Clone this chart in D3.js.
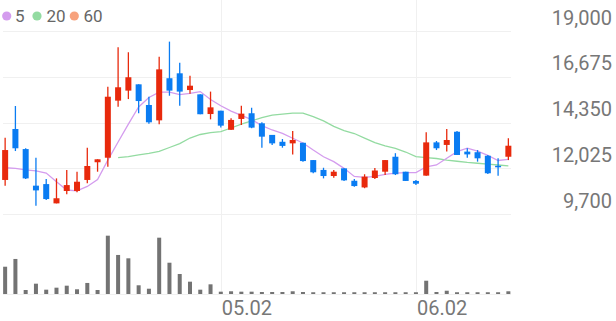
<!DOCTYPE html>
<html>
<head>
<meta charset="utf-8">
<script src="https://cdn.jsdelivr.net/npm/d3@7"></script>
<style>
    body { margin: 0; background: #fff; }
    svg { display: block; font-family: Roboto, "Noto Sans", sans-serif; }
</style>
</head>
<body>
<script>
const dates = ["04.02", "04.03", "04.04", "04.07", "04.08", "04.09", "04.10", "04.11", "04.14", "04.15",
    "04.16", "04.17", "04.18", "04.21", "04.22", "04.23", "04.24", "04.25", "04.28", "04.29",
    "04.30", "05.02", "05.07", "05.08", "05.09", "05.12", "05.13", "05.14", "05.15", "05.16",
    "05.19", "05.20", "05.21", "05.22", "05.23", "05.26", "05.27", "05.28", "05.29", "05.30",
    "06.02", "06.04", "06.05", "06.09", "06.10", "06.11", "06.12", "06.13", "06.16", "06.17"];
const opens = [11430, 14020, 13000, 11140, 11220, 10240, 10870, 10870, 11430, 12330,
    12560, 15460, 15970, 16290, 15240, 14460, 16600, 16850, 16000, 15780,
    14780, 14950, 13980, 14530, 14820, 14310, 13720, 13370, 13290, 13320,
    12440, 11940, 11630, 12020, 11390, 11050, 11530, 11850, 12610, 11850,
    11380, 11650, 13340, 13210, 13880, 12870, 12840, 12660, 12150, 12610];
const highs = [13580, 15190, 13040, 12560, 11480, 11510, 11940, 11850, 13070, 12480,
    16170, 18170, 17920, 16290, 15660, 17690, 18460, 17390, 16730, 15780,
    15920, 14950, 14560, 15200, 15100, 14360, 13720, 13510, 13920, 13320,
    12440, 12050, 11940, 12020, 11480, 11720, 12040, 12440, 12790, 11850,
    11430, 13850, 13410, 14020, 13920, 13040, 12950, 12700, 12530, 13550];
const lows = [11140, 12900, 11480, 10120, 10410, 10240, 10700, 10800, 11260, 11850,
    12100, 15150, 15540, 14820, 14290, 14260, 15710, 15200, 15810, 14770,
    14510, 14090, 13970, 14220, 14060, 13070, 13210, 13070, 12730, 12360,
    11770, 11510, 11540, 11380, 11090, 11010, 11480, 11680, 11680, 11380,
    11170, 11650, 12950, 12870, 12700, 12560, 12360, 11730, 11650, 12440];
const closes = [12950, 13040, 11510, 10900, 10460, 10500, 11170, 11340, 12140, 12480,
    15660, 16140, 16650, 15440, 14360, 17050, 15970, 15920, 16220, 14770,
    15120, 14190, 14480, 14800, 14090, 13630, 13290, 13160, 13460, 12390,
    11820, 11630, 11850, 11410, 11120, 11600, 11910, 12440, 11720, 11380,
    11240, 13340, 13040, 13460, 12700, 12730, 12530, 11770, 12090, 13170];
const volumes = [341, 438, 50, 129, 54, 79, 104, 59, 138, 50,
    729, 488, 446, 109, 66, 704, 391, 250, 154, 54,
    121, 29, 34, 29, 29, 25, 25, 25, 34, 25,
    22, 22, 22, 22, 22, 22, 22, 22, 22, 22,
    22, 166, 25, 41, 22, 22, 22, 22, 22, 34];
const ma5 = [12050, 12020, 11940, 11890, 11780, 11340, 10920, 10880, 11100, 11450,
    12440, 13360, 14270, 15140, 15620, 15890, 15890, 15770, 15830, 15920,
    15520, 15200, 14930, 14710, 14500, 14190, 13970, 13800, 13550, 13310,
    12950, 12610, 12360, 12020, 11610, 11560, 11610, 11710, 11780, 11800,
    11800, 12100, 12190, 12530, 12870, 13050, 12890, 12680, 12420, 12480];
const ma20 = [null, null, null, null, null, null, null, null, null, null,
    null, 12570, 12620, 12700, 12780, 12880, 13080, 13280, 13560, 13740,
    13840, 13890, 14070, 14270, 14430, 14600, 14730, 14780, 14830, 14830,
    14650, 14430, 14150, 13940, 13790, 13560, 13330, 13160, 13030, 12850,
    12620, 12570, 12520, 12440, 12380, 12320, 12280, 12230, 12190, 12150];
const priceTicks = [9700, 12025, 14350, 16675, 19000];
const dateTicks = ["05.02", "06.02"];
const legendNames = ["5", "20", "60"];

const width = 616, height = 321;
const upColor = "#e8290c", downColor = "#0a7cf2";
const maColors = ["#d49cee", "#93dba1", "#f7a27d"];

const svg = d3.select("body").append("svg")
    .attr("width", width)
    .attr("height", height);

//scales
const x = d3.scaleBand()
    .domain(dates)
    .range([0, 513.5]);
const cx = d => x(d) + x.bandwidth() / 2;
const y = d3.scaleLinear()
    .domain([9700, 19000])
    .range([214, 31]);
const yVol = d3.scaleLinear()
    .domain([0, 1000])
    .range([294, 214]);

//grid
const grid = svg.append("g");
grid.selectAll(".hline")
    .data(priceTicks)
    .enter()
    .append("line")
    .attr("x1", 3).attr("x2", 511)
    .attr("y1", d => Math.round(y(d)) + 0.5)
    .attr("y2", d => Math.round(y(d)) + 0.5)
    .attr("stroke", "#f0f0f0");
grid.append("line")
    .attr("x1", 3).attr("x2", 511)
    .attr("y1", yVol(0) + 0.5).attr("y2", yVol(0) + 0.5)
    .attr("stroke", "#f0f0f0");
grid.selectAll(".vline")
    .data(dateTicks)
    .enter()
    .append("line")
    .attr("x1", d => Math.round(cx(d)) + 0.5)
    .attr("x2", d => Math.round(cx(d)) + 0.5)
    .attr("y1", 0).attr("y2", yVol(0))
    .attr("stroke", "#f0f0f0");

//axis labels
const yAxis = d3.axisRight(y)
    .tickValues(priceTicks)
    .tickFormat(d3.format(","))
    .tickSize(0);
svg.append("g")
    .attr("transform", "translate(612,0)")
    .call(yAxis)
    .call(g => g.select(".domain").remove())
    .selectAll("text")
    .attr("x", 0)
    .attr("dy", "-7px")
    .attr("text-anchor", "end")
    .attr("fill", "#777")
    .attr("font-size", "20px")
    .attr("font-family", "Roboto");

const xAxis = d3.axisBottom(x)
    .tickValues(dateTicks)
    .tickSize(0);
svg.append("g")
    .attr("transform", "translate(0,298)")
    .call(xAxis)
    .call(g => g.select(".domain").remove())
    .selectAll("text")
    .attr("x", 1)
    .attr("dy", "0.71em")
    .attr("text-anchor", "start")
    .attr("transform", "translate(" + (-x.bandwidth() / 2 + x.bandwidth() / 2) + ",0)")
    .attr("fill", "#777")
    .attr("font-size", "20px")
    .attr("font-family", "Roboto");

const candles = dates.map((d, i) => ({
    date: d, open: opens[i], high: highs[i], low: lows[i], close: closes[i], vol: volumes[i]
}));
const colorOf = d => d.close >= d.open ? upColor : downColor;

//volume
svg.append("g")
    .selectAll("rect")
    .data(candles)
    .enter()
    .append("rect")
    .attr("x", d => cx(d.date) - 2)
    .attr("width", 4)
    .attr("y", d => yVol(d.vol))
    .attr("height", d => yVol(0) - yVol(d.vol))
    .attr("fill", "#737373");

//moving averages
const line = d3.line()
    .defined(d => d[1] != null)
    .x(d => cx(d[0]))
    .y(d => y(d[1]));
[ma20, ma5].forEach((ma, k) => {
    svg.append("path")
        .datum(dates.map((d, i) => [d, ma[i]]))
        .attr("d", line)
        .attr("fill", "none")
        .attr("stroke", k == 0 ? maColors[1] : maColors[0])
        .attr("stroke-width", 1.3);
});

//candles
const c = svg.append("g")
    .selectAll("g")
    .data(candles)
    .enter()
    .append("g");
c.append("line")
    .attr("x1", d => cx(d.date))
    .attr("x2", d => cx(d.date))
    .attr("y1", d => y(d.high))
    .attr("y2", d => y(d.low))
    .attr("stroke", colorOf)
    .attr("stroke-width", 1.3);
c.append("rect")
    .attr("x", d => cx(d.date) - 3)
    .attr("width", 6)
    .attr("y", d => y(Math.max(d.open, d.close)))
    .attr("height", d => Math.max(1.5, Math.abs(y(d.open) - y(d.close))))
    .attr("fill", colorOf);

//legend
const legendX = [[6.7, 15], [37, 46.5], [74.3, 83.5]];
const legend = svg.append("g")
    .selectAll("g")
    .data(legendNames)
    .enter()
    .append("g");
legend.append("circle")
    .attr("cx", (d, i) => legendX[i][0])
    .attr("cy", 16)
    .attr("r", 4.6)
    .attr("fill", (d, i) => maColors[i]);
legend.append("text")
    .attr("x", (d, i) => legendX[i][1])
    .attr("y", 22)
    .attr("font-size", "17px")
    .attr("fill", "#666")
    .text(d => d);
</script>
</body>
</html>
